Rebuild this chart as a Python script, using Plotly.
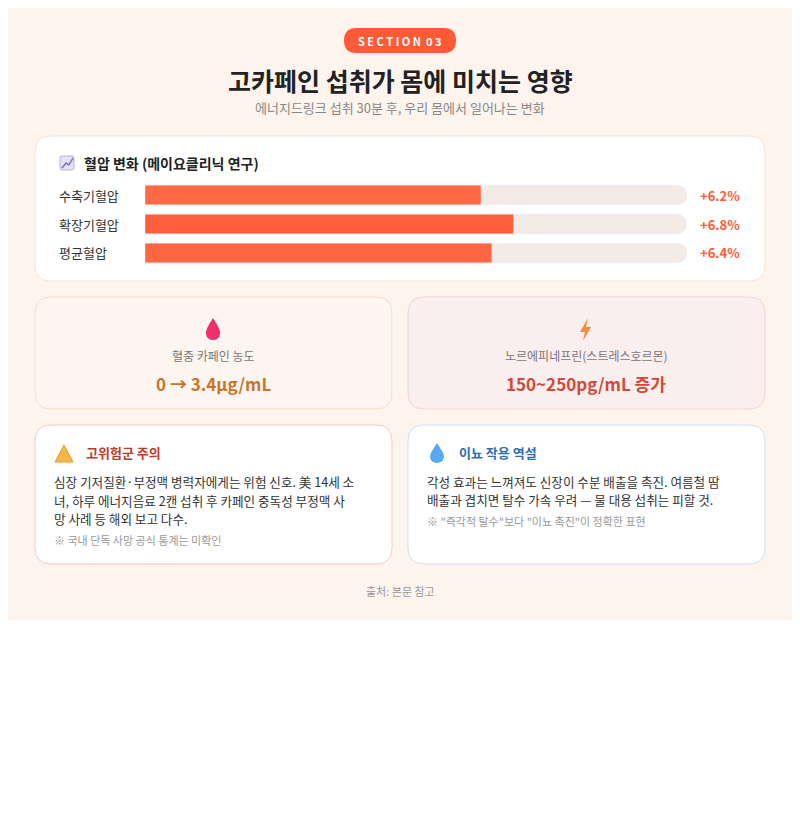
import plotly.graph_objects as go

categories = ["수축기혈압", "확장기혈압", "평균혈압"]
values = [6.2, 6.8, 6.4]
value_labels = ["+6.2%", "+6.8%", "+6.4%"]
scale_max = 10

OFF = 8
W, H = 784, 804
FONT = "Noto Sans CJK KR"

def px(x): return (x - OFF) / W
def py(y): return 1 - (y - OFF) / H

def rrect(x0, y0, x1, y1, r):
    X = lambda v: f"{px(v):.5f}"
    Y = lambda v: f"{py(v):.5f}"
    return (f"M {X(x0+r)},{Y(y0)} L {X(x1-r)},{Y(y0)} Q {X(x1)},{Y(y0)} {X(x1)},{Y(y0+r)} "
            f"L {X(x1)},{Y(y1-r)} Q {X(x1)},{Y(y1)} {X(x1-r)},{Y(y1)} L {X(x0+r)},{Y(y1)} "
            f"Q {X(x0)},{Y(y1)} {X(x0)},{Y(y1-r)} L {X(x0)},{Y(y0+r)} Q {X(x0)},{Y(y0)} {X(x0+r)},{Y(y0)} Z")

def pathpx(pts):
    return "M " + " L ".join(f"{px(a):.5f},{py(b):.5f}" for a, b in pts) + " Z"

shapes = []
def card(x0, y0, x1, y1, fill, line, r=16):
    shapes.append(dict(type="path", xref="paper", yref="paper", path=rrect(x0, y0, x1, y1, r),
                       fillcolor=fill, line=dict(color=line, width=1), layer="below"))

shapes.append(dict(type="rect", xref="paper", yref="paper", x0=0, x1=1, y0=py(620), y1=1,
                   fillcolor="#fdf4ee", line=dict(width=0), layer="below"))
shapes.append(dict(type="path", xref="paper", yref="paper", path=rrect(344, 28, 456, 53, 12.5),
                   fillcolor="#ff5a36", line=dict(width=0), layer="below"))
card(35, 136, 765, 281, "#ffffff", "#f3e4da")
card(35, 297, 392, 409, "#fdf6f0", "#f3dfcf")
card(408, 297, 765, 409, "#fbeeee", "#f0d5d5")
card(35, 425, 392, 564, "#ffffff", "#f5c9bf")
card(408, 425, 765, 564, "#ffffff", "#cfe0f0")

shapes.append(dict(type="path", xref="paper", yref="paper", path=rrect(60, 156, 74, 170, 2),
                   fillcolor="#e6e2f2", line=dict(color="#b9b3d6", width=1)))
shapes.append(dict(type="path", xref="paper", yref="paper",
                   path=f"M {px(62):.5f},{py(168):.5f} L {px(66):.5f},{py(163):.5f} L {px(69):.5f},{py(165):.5f} L {px(73):.5f},{py(158):.5f}",
                   line=dict(color="#7a6fd0", width=1.5)))
shapes.append(dict(type="path", xref="paper", yref="paper",
                   path=f"M {px(213):.5f},{py(318):.5f} Q {px(221):.5f},{py(330):.5f} {px(220):.5f},{py(334):.5f} "
                        f"Q {px(219):.5f},{py(340):.5f} {px(213):.5f},{py(340):.5f} Q {px(207):.5f},{py(340):.5f} {px(206):.5f},{py(334):.5f} "
                        f"Q {px(205):.5f},{py(330):.5f} {px(213):.5f},{py(318):.5f} Z",
                   fillcolor="#f0306a", line=dict(width=0)))
shapes.append(dict(type="path", xref="paper", yref="paper",
                   path=pathpx([(588, 318), (580, 332), (585, 332), (583, 341), (591, 327), (586, 327)]),
                   fillcolor="#f7893a", line=dict(width=0)))
shapes.append(dict(type="path", xref="paper", yref="paper",
                   path=pathpx([(64, 445), (55, 462), (73, 462)]),
                   fillcolor="#f7b64a", line=dict(color="#e79a2a", width=1)))
shapes.append(dict(type="path", xref="paper", yref="paper",
                   path=f"M {px(437):.5f},{py(443):.5f} Q {px(445):.5f},{py(455):.5f} {px(444):.5f},{py(457):.5f} "
                        f"Q {px(443):.5f},{py(463):.5f} {px(437):.5f},{py(463):.5f} Q {px(431):.5f},{py(463):.5f} {px(430):.5f},{py(457):.5f} "
                        f"Q {px(429):.5f},{py(455):.5f} {px(437):.5f},{py(443):.5f} Z",
                   fillcolor="#5aa8f0", line=dict(width=0)))

ann = []
def T(x, y, text, size=12, color="#333", bold=False, anchor="left"):
    if bold:
        text = f"<b>{text}</b>"
    ann.append(dict(x=px(x), y=py(y), xref="paper", yref="paper", text=text, showarrow=False,
                    xanchor=anchor, yanchor="middle", font=dict(size=size, color=color, family=FONT)))

T(400, 41, "S E C T I O N  0 3", 11, "#ffffff", True, "center")
T(400, 80, "고카페인 섭취가 몸에 미치는 영향", 25, "#222222", True, "center")
T(400, 108, "에너지드링크 섭취 30분 후, 우리 몸에서 일어나는 변화", 13, "#888888", False, "center")
T(82, 163, "혈압 변화 (메이요클리닉 연구)", 14, "#222222", True)
rows_y = [195, 224, 253]
for c, lab, yy in zip(categories, value_labels, rows_y):
    T(57, yy, c, 13, "#333333")
    T(742, yy, lab, 13, "#ff5a36", True, "right")
T(213, 355, "혈중 카페인 농도", 12, "#777777", False, "center")
T(213, 383, "0 → 3.4μg/mL", 17, "#c8742a", True, "center")
T(586, 355, "노르에피네프린(스트레스호르몬)", 12, "#777777", False, "center")
T(586, 383, "150~250pg/mL 증가", 17, "#d04a3a", True, "center")
T(84, 453, "고위험군 주의", 13, "#c0392b", True)
T(52, 481, "심장 기저질환·부정맥 병력자에게는 위험 신호. 美 14세 소", 12.6, "#333333")
T(52, 500, "녀, 하루 에너지음료 2캔 섭취 후 카페인 중독성 부정맥 사", 12.6, "#333333")
T(52, 518, "망 사례 등 해외 보고 다수.", 12.6, "#333333")
T(52, 540, "※ 국내 단독 사망 공식 통계는 미확인", 11, "#999999")
T(457, 453, "이뇨 작용 역설", 13, "#2d6fb0", True)
T(425, 481, "각성 효과는 느껴져도 신장이 수분 배출을 촉진. 여름철 땀", 12.6, "#333333")
T(425, 499, "배출과 겹치면 탈수 가속 우려 — 물 대용 섭취는 피할 것.", 12.6, "#333333")
T(425, 521, "※ \"즉각적 탈수\"보다 \"이뇨 촉진\"이 정확한 표현", 11, "#999999")
T(400, 591, "출처: 본문 참고", 11, "#999999", False, "center")

fig = go.Figure()
fig.add_trace(go.Bar(y=categories, x=[scale_max] * len(categories), orientation="h",
                     marker=dict(color="#f5ebe6", cornerradius=10), width=0.68, hoverinfo="skip"))
fig.add_trace(go.Bar(y=categories, x=values, orientation="h",
                     marker=dict(color=["#ff6a45", "#ff5f3c", "#ff6641"], cornerradius=10),
                     width=0.68))
fig.update_layout(
    width=W, height=H, margin=dict(l=0, r=0, t=0, b=0), barmode="overlay",
    paper_bgcolor="#ffffff", plot_bgcolor="rgba(0,0,0,0)", showlegend=False,
    xaxis=dict(domain=[px(145), px(687)], range=[0, scale_max], visible=False, fixedrange=True),
    yaxis=dict(domain=[py(267.5), py(180.5)], autorange="reversed", visible=False, fixedrange=True),
    shapes=shapes, annotations=ann, font=dict(family=FONT),
)
fig.write_html("out.html")
